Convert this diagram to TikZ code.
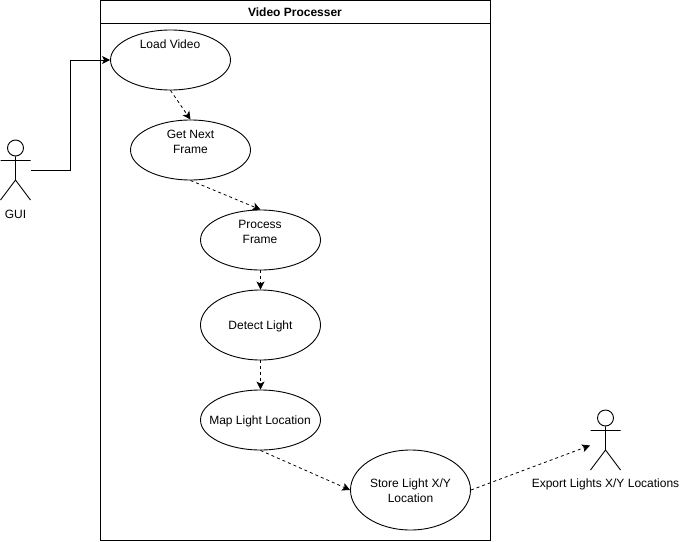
\documentclass[tikz,border=0pt]{standalone}
\usepackage{fontspec}
\setmainfont{Liberation Sans}
\usetikzlibrary{shapes.geometric,arrows.meta}
\tikzset{
  uc/.style={draw,ellipse,inner sep=0pt,minimum width=120pt,minimum height=#1,line width=.9pt},
  uc/.default=60pt,
  lbl/.style={font=\fontsize{12}{15}\selectfont,align=center,inner sep=0pt},
  flow/.style={-{Stealth[length=8pt,width=8pt,inset=2pt]},line width=.8pt},
  dep/.style={flow,dash pattern=on 3pt off 3pt},
  stick/.style={line width=.9pt}
}
\begin{document}
\begin{tikzpicture}[x=1pt,y=-1pt]
\useasboundingbox (0,0) rectangle (680,541);
\fill[white] (0,0) rectangle (680,541);
% frame
\node[draw,line width=.9pt,minimum width=390pt,minimum height=540pt,inner sep=0pt] (frame) at (295.5,270.5) {};
\coordinate (hl) at (100.5,23.5);
\coordinate (hr) at (490.5,23.5);
\draw[line width=.9pt] (hl) -- (hr);
\node[lbl,font=\fontsize{12}{15}\selectfont\bfseries] (title) at (295,12.5) {Video Processer};
% use cases
\node[uc] (load) at (170.5,60) {};
\node[lbl] (loadt) at (170,44) {Load Video};
\node[uc] (next) at (190.5,150) {};
\node[lbl] (nextt) at (190.5,141.7) {Get Next\\Frame};
\node[uc] (proc) at (260.5,240) {};
\node[lbl] (proct) at (260,231.7) {Process\\Frame};
\node[uc=70pt] (detect) at (260.5,325) {};
\node[lbl] (detectt) at (260.5,326.2) {Detect Light};
\node[uc] (map) at (260.5,420) {};
\node[lbl] (mapt) at (260,421.2) {Map Light Location};
\node[uc=80pt] (store) at (410.5,490) {};
\node[lbl] (storet) at (410.5,491.2) {Store Light X/Y\\Location};
% actor GUI
\node[draw,circle,stick,minimum size=16pt,inner sep=0pt] (guih) at (15.5,148) {};
\coordinate (guib) at (15.5,180);
\coordinate (guil) at (0.5,160.5);
\coordinate (guir) at (30.5,160.5);
\coordinate (guifl) at (0.5,200);
\coordinate (guifr) at (30.5,200);
\coordinate (guiout) at (30.5,170.5);
\draw[stick] (guih) -- (guib) (guil) -- (guir) (guifl) -- (guib) -- (guifr);
\node[lbl] (guit) at (15.5,214) {GUI};
% actor Export
\node[draw,circle,stick,minimum size=16pt,inner sep=0pt] (exph) at (605.5,418) {};
\coordinate (expb) at (605.5,450);
\coordinate (expl) at (590.5,430.5);
\coordinate (expr) at (620.5,430.5);
\coordinate (expfl) at (590.5,470);
\coordinate (expfr) at (620.5,470);
\coordinate (expin) at (590,445.5);
\draw[stick] (exph) -- (expb) (expl) -- (expr) (expfl) -- (expb) -- (expfr);
\node[lbl] (expt) at (605.5,484) {Export Lights X/Y Locations};
% connectors
\draw[flow] (guiout) -| (70.5,60) -- (load.west);
\draw[dep] (load.south) -- (next.north);
\draw[dep] (next.south) -- (proc.north);
\draw[dep] (proc.south) -- (detect.north);
\draw[dep] (detect.south) -- (map.north);
\draw[dep] (map.south) -- (store.west);
\draw[dep] (store.east) -- (expin);
\end{tikzpicture}
\end{document}
